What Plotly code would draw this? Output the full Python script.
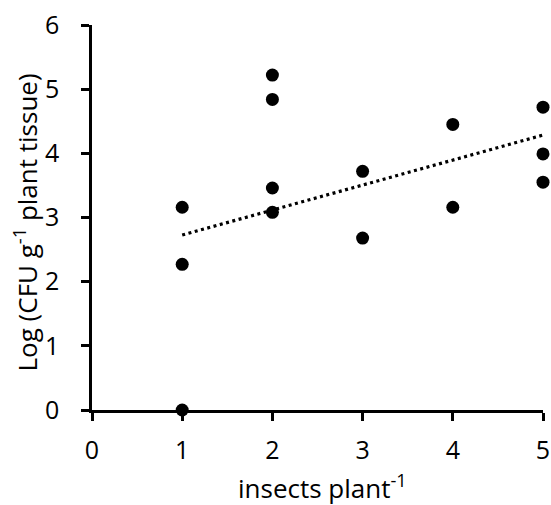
import numpy as np
import plotly.graph_objects as go

insects = [1, 1, 1, 2, 2, 2, 2, 3, 3, 4, 4, 5, 5, 5]
log_cfu = [3.16, 2.27, 0.0, 5.22, 4.84, 3.46, 3.08, 3.72, 2.68, 4.45, 3.16, 4.72, 3.99, 3.55]
x_ticks = [0, 1, 2, 3, 4, 5]
y_ticks = [0, 1, 2, 3, 4, 5, 6]
x_title = "insects plant<sup>-1</sup>"
y_title = "Log (CFU g<sup>-1</sup> plant tissue)"

slope, intercept = np.polyfit(insects, log_cfu, 1)
trend_x = [min(insects), max(insects)]
trend_y = [slope * v + intercept for v in trend_x]

font_family = "Open Sans, Liberation Sans, sans-serif"

fig = go.Figure()
fig.add_trace(go.Scatter(
    x=trend_x, y=trend_y, mode="lines",
    line=dict(color="black", width=3.2, dash="3px,3.5px"),
    showlegend=False, hoverinfo="skip", cliponaxis=False,
))
fig.add_trace(go.Scatter(
    x=insects, y=log_cfu, mode="markers",
    marker=dict(color="black", size=13, line=dict(width=0)),
    showlegend=False, cliponaxis=False,
))

fig.update_layout(
    width=551, height=505,
    margin=dict(l=92, r=8, t=25, b=95, autoexpand=False),
    paper_bgcolor="white", plot_bgcolor="white",
    font=dict(family=font_family, color="black", size=25),
    xaxis=dict(
        range=[0, 5], tickvals=x_ticks, showgrid=False, zeroline=False,
        showline=True, linecolor="black", linewidth=2.5, automargin=False,
        ticks="outside", ticklen=8, tickwidth=2.5, tickcolor="black",
        tickfont=dict(size=25), ticklabelstandoff=8,
    ),
    yaxis=dict(
        range=[0, 6], tickvals=y_ticks, showgrid=False, zeroline=False,
        showline=True, linecolor="black", linewidth=2.5, automargin=False,
        ticks="outside", ticklen=8, tickwidth=2.5, tickcolor="black",
        tickfont=dict(size=25), ticklabelstandoff=17,
    ),
    annotations=[
        dict(text=x_title, xref="paper", yref="paper", x=0.5, y=0,
             xanchor="center", yanchor="middle", xshift=5, yshift=-77,
             showarrow=False, font=dict(size=26)),
        dict(text=y_title, xref="paper", yref="paper", x=0, y=0.5,
             xanchor="center", yanchor="middle", xshift=-66, yshift=-5,
             textangle=-90, showarrow=False, font=dict(size=26)),
    ],
)

fig.write_html(
    "out.html",
    config={"displayModeBar": False},
    post_script="document.body.style.margin='0';document.body.style.padding='0';",
)
